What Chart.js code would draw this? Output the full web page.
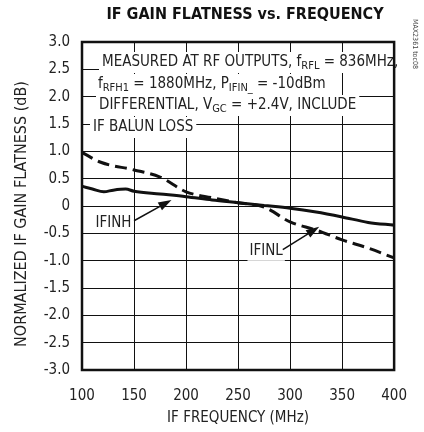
<!DOCTYPE html>
<html>
<head>
<meta charset="utf-8">
<script src="https://cdn.jsdelivr.net/npm/chart.js@4.4.0/dist/chart.umd.min.js"></script>
<style>
  html, body { margin: 0; padding: 0; background: #fff; }
  #wrap { width: 424px; height: 432px; }
</style>
</head>
<body>
<div id="wrap"><canvas id="c" width="424" height="432"></canvas></div>
<script>
// 周波数 (MHz)
const freqH = [100, 110, 121, 130, 142, 150, 175, 200, 225, 250, 275, 300, 325, 350, 375, 400];
const gainH = [0.36, 0.31, 0.26, 0.29, 0.31, 0.27, 0.22, 0.17, 0.11, 0.06, 0.01, -0.04, -0.11, -0.2, -0.3, -0.35];

const freqL = [100, 118, 150, 175, 200, 225, 250, 275, 300, 325, 350, 375, 400];
const gainL = [0.98, 0.8, 0.66, 0.53, 0.26, 0.15, 0.06, -0.02, -0.29, -0.44, -0.62, -0.77, -0.95];

const FONT = '"DejaVu Sans Condensed", "Liberation Sans", Arial, sans-serif';

// 注記テキスト（[文字列, 下付きか]）
const noteLines = [
  [['MEASURED AT RF OUTPUTS, f', false], ['RFL', true], [' = 836MHz,', false]],
  [['f', false], ['RFH1', true], [' = 1880MHz, P', false], ['IFIN_', true], [' = -10dBm', false]],
  [['DIFFERENTIAL, V', false], ['GC', true], [' = +2.4V, INCLUDE', false]],
  [['IF BALUN LOSS', false]],
];

const toXY = (xs, ys) => xs.map((x, i) => ({ x, y: ys[i] }));

const overlay = {
  id: 'overlay',
  afterDatasetsDraw(chart) {
    const { ctx, chartArea: a, scales } = chart;
    const sx = scales.x, sy = scales.y;
    ctx.save();
    ctx.textBaseline = 'middle';
    ctx.textAlign = 'left';

    // 注記
    const mainFont = `15px ${FONT}`, subFont = `11px ${FONT}`;
    const starts = [102, 98, 99, 93];
    const rows = [62, 84, 105, 127];
    noteLines.forEach((line, i) => {
      let w = 0;
      line.forEach(([t, sub]) => {
        ctx.font = sub ? subFont : mainFont;
        w += ctx.measureText(t).width;
      });
      let x = starts[i];
      ctx.fillStyle = '#fff';
      ctx.fillRect(x - 3, rows[i] - 10, w + 6, 21);
      ctx.fillStyle = '#222';
      line.forEach(([t, sub]) => {
        ctx.font = sub ? subFont : mainFont;
        ctx.fillText(t, x, sub ? rows[i] + 4 : rows[i]);
        x += ctx.measureText(t).width;
      });
    });

    // 曲線ラベル
    ctx.font = `15px ${FONT}`;
    const labels = [['IFINH', 113, -0.31], ['IFINL', 261, -0.82]];
    labels.forEach(([t, fx, fy]) => {
      const px = sx.getPixelForValue(fx), py = sy.getPixelForValue(fy);
      const w = ctx.measureText(t).width;
      ctx.fillStyle = '#fff';
      ctx.fillRect(px - 2, py - 10, w + 4, 20);
      ctx.fillStyle = '#222';
      ctx.fillText(t, px, py);
    });

    // 矢印
    const arrow = (x1, y1, x2, y2) => {
      const ax = sx.getPixelForValue(x1), ay = sy.getPixelForValue(y1);
      const bx = sx.getPixelForValue(x2), by = sy.getPixelForValue(y2);
      const ang = Math.atan2(by - ay, bx - ax);
      ctx.strokeStyle = '#111';
      ctx.lineWidth = 1.5;
      ctx.beginPath();
      ctx.moveTo(ax, ay);
      ctx.lineTo(bx - 8 * Math.cos(ang), by - 8 * Math.sin(ang));
      ctx.stroke();
      ctx.fillStyle = '#111';
      ctx.beginPath();
      ctx.moveTo(bx, by);
      ctx.lineTo(bx - 14 * Math.cos(ang - 0.32), by - 14 * Math.sin(ang - 0.32));
      ctx.lineTo(bx - 14 * Math.cos(ang + 0.32), by - 14 * Math.sin(ang + 0.32));
      ctx.closePath();
      ctx.fill();
    };
    arrow(150, -0.27, 186, 0.11);
    arrow(293, -0.8, 328, -0.38);

    // 枠
    ctx.strokeStyle = '#111';
    ctx.lineWidth = 2.5;
    ctx.strokeRect(a.left, a.top, a.right - a.left, a.bottom - a.top);
    ctx.restore();
  },
  afterDraw(chart) {
    const { ctx, chartArea: a } = chart;
    ctx.save();
    ctx.textAlign = 'center';
    ctx.textBaseline = 'middle';
    ctx.fillStyle = '#111';
    ctx.font = `bold 16px ${FONT}`;
    ctx.fillText('IF GAIN FLATNESS vs. FREQUENCY', 245, 15);
    ctx.fillStyle = '#222';
    ctx.font = `15px ${FONT}`;
    ctx.fillText('IF FREQUENCY (MHz)', (a.left + a.right) / 2, 418);
    ctx.translate(22, 214);
    ctx.rotate(-Math.PI / 2);
    ctx.font = `16px ${FONT}`;
    ctx.fillText('NORMALIZED IF GAIN FLATNESS (dB)', 0, 0);
    ctx.restore();

    ctx.save();
    ctx.fillStyle = '#444';
    ctx.textAlign = 'center';
    ctx.textBaseline = 'middle';
    ctx.font = `7px ${FONT}`;
    ctx.translate(415, 44);
    ctx.rotate(Math.PI / 2);
    ctx.fillText('MAX2361 toc08', 0, 0);
    ctx.restore();
  },
};

new Chart(document.getElementById('c').getContext('2d'), {
  type: 'line',
  data: {
    datasets: [
      {
        label: 'IFINH',
        data: toXY(freqH, gainH),
        borderColor: '#111',
        borderWidth: 3,
        pointRadius: 0,
        tension: 0.4,
        cubicInterpolationMode: 'monotone',
      },
      {
        label: 'IFINL',
        data: toXY(freqL, gainL),
        borderColor: '#111',
        borderWidth: 3,
        borderDash: [12, 6],
        pointRadius: 0,
        tension: 0.4,
        cubicInterpolationMode: 'monotone',
      },
    ],
  },
  options: {
    responsive: false,
    animation: false,
    layout: { padding: { top: 42, right: 16, left: 0, bottom: 0 } },
    plugins: { legend: { display: false }, tooltip: { enabled: false } },
    scales: {
      x: {
        type: 'linear',
        min: 100,
        max: 400,
        afterFit: (s) => { s.height = 62; },
        ticks: { stepSize: 50, color: '#222', font: { family: FONT, size: 15 }, padding: 17, maxRotation: 0 },
        grid: { color: '#111', lineWidth: 1, drawTicks: false },
        border: { display: false },
      },
      y: {
        min: -3,
        max: 3,
        afterFit: (s) => { s.width = 82; },
        ticks: {
          stepSize: 0.5,
          color: '#222',
          font: { family: FONT, size: 15 },
          padding: 12,
          callback: (v) => (v === 0 ? '0' : v.toFixed(1)),
        },
        grid: { color: '#111', lineWidth: 1, drawTicks: false },
        border: { display: false },
      },
    },
  },
  plugins: [overlay],
});
</script>
</body>
</html>
